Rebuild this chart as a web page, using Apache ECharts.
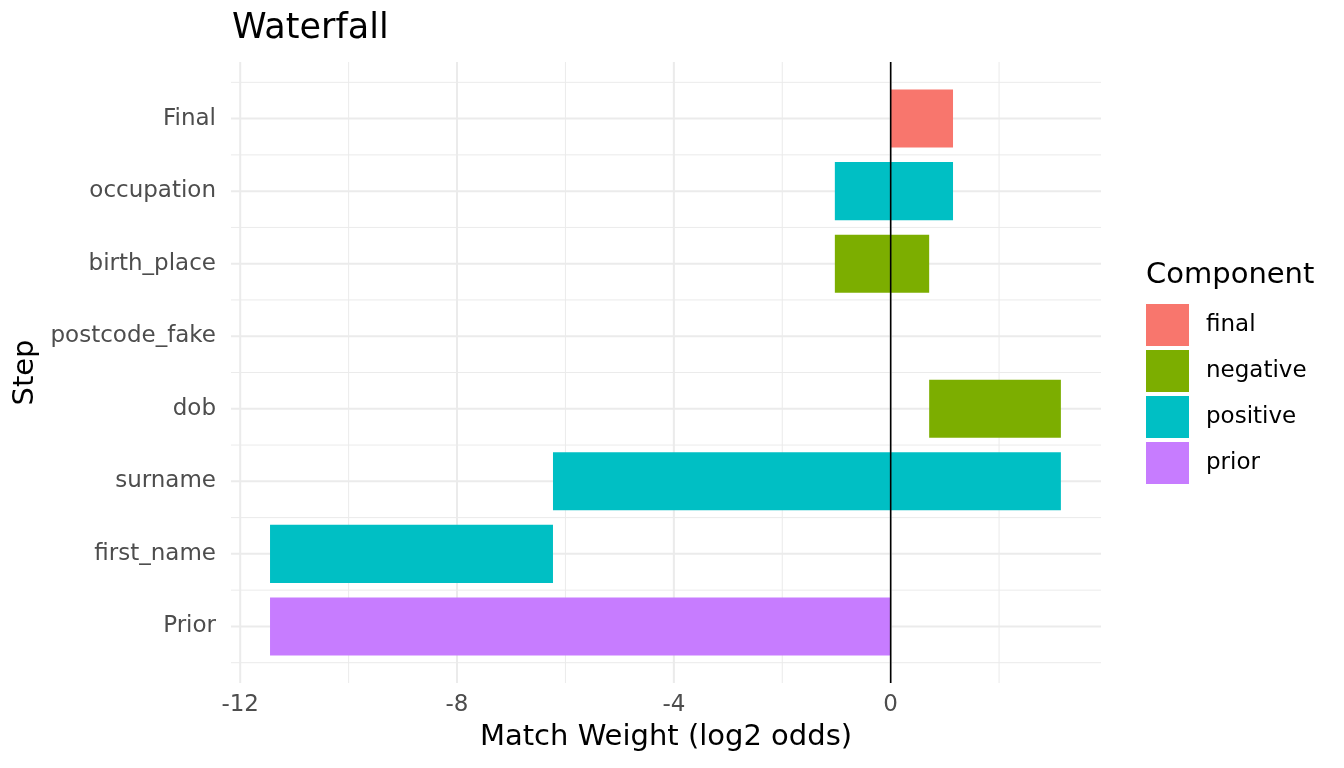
<!DOCTYPE html>
<html>
<head>
<meta charset="utf-8">
<title>Waterfall</title>
<script src="https://cdn.jsdelivr.net/npm/echarts@6/dist/echarts.min.js"></script>
<style>
html,body{margin:0;padding:0;background:#fff;}
#main{width:1344px;height:768px;}
</style>
</head>
<body>
<div id="main"></div>
<script>
// steps, from bottom to top
var steps = ['Prior', 'first_name', 'surname', 'dob', 'postcode_fake', 'birth_place', 'occupation', 'Final'];
// start / end of each bar (log2 odds)
var barStart = [0, -11.45, -6.23, 3.14, 0.71, 0.71, -1.03, 0];
var barEnd = [-11.45, -6.23, 3.14, 0.71, 0.71, -1.03, 1.15, 1.15];
var stepComponent = ['prior', 'positive', 'positive', 'negative', 'negative', 'negative', 'positive', 'final'];

var components = ['final', 'negative', 'positive', 'prior'];
var colors = ['#F8766D', '#7CAE00', '#00BFC4', '#C77CFF'];

// axis ticks
var xTicks = [-12, -8, -4, 0];
var xMinor = [-10, -6, -2, 2];
var yTicks = [0, 1, 2, 3, 4, 5, 6, 7];
var yMinor = [-0.5, 0.5, 1.5, 2.5, 3.5, 4.5, 5.5, 6.5, 7.5];

var font = 'DejaVu Sans';

// one bar: from value(0) to value(1) at row value(2)
function renderBar(params, api) {
	var a = api.coord([api.value(0), api.value(2)]);
	var b = api.coord([api.value(1), api.value(2)]);
	var h = api.size([0, 0.8])[1];
	return {
		type: 'rect',
		shape: {x: Math.min(a[0], b[0]), y: a[1] - h / 2, width: Math.abs(b[0] - a[0]), height: h},
		style: api.style()
	};
}

// full-width / full-height line of the panel
function lineSeries(values, vertical, color, width, z) {
	return {
		type: 'custom',
		silent: true,
		z: z,
		encode: {x: 0, y: 1},
		data: values.map(function (v) { return vertical ? [v, 0] : [0, v]; }),
		renderItem: function (params, api) {
			var cs = params.coordSys;
			var p = api.coord([api.value(0), api.value(1)]);
			var shape = vertical
				? {x1: p[0], y1: cs.y, x2: p[0], y2: cs.y + cs.height}
				: {x1: cs.x, y1: p[1], x2: cs.x + cs.width, y2: p[1]};
			return {type: 'line', shape: shape, style: {stroke: color, lineWidth: width}};
		}
	};
}

var series = [
	lineSeries(xMinor, true, '#EBEBEB', 1, 0),
	lineSeries(yMinor, false, '#EBEBEB', 1, 0),
	lineSeries(xTicks, true, '#EBEBEB', 2, 1),
	lineSeries(yTicks, false, '#EBEBEB', 2, 1)
];

components.forEach(function (c, k) {
	var data = [];
	for (var i = 0; i < steps.length; i++) {
		if (stepComponent[i] === c) data.push([barStart[i], barEnd[i], i]);
	}
	series.push({
		name: c,
		type: 'custom',
		z: 2,
		renderItem: renderBar,
		encode: {x: [0, 1], y: 2},
		itemStyle: {color: colors[k]},
		data: data
	});
});

// vline at 0
series.push(lineSeries([0], true, '#000000', 1.6, 3));

var chart = echarts.init(document.getElementById('main'));
var option = {
	backgroundColor: '#ffffff',
	animation: false,
	textStyle: {fontFamily: font},
	grid: {left: 231, right: 243, top: 62, bottom: 85},
	xAxis: {
		type: 'value',
		min: -12.17,
		max: 3.88,
		name: 'Match Weight (log2 odds)',
		nameLocation: 'middle',
		nameGap: 54,
		nameTextStyle: {fontSize: 29, color: '#000', fontFamily: font, verticalAlign: 'middle'},
		axisLine: {show: false},
		axisTick: {show: false},
		splitLine: {show: false},
		axisLabel: {customValues: xTicks, fontSize: 23, color: '#4D4D4D', margin: 11, fontFamily: font}
	},
	yAxis: {
		type: 'value',
		min: -0.78,
		max: 7.78,
		name: 'Step',
		nameLocation: 'middle',
		nameGap: 203,
		nameRotate: 90,
		nameTextStyle: {fontSize: 29, color: '#000', fontFamily: font, verticalAlign: 'middle'},
		axisLine: {show: false},
		axisTick: {show: false},
		splitLine: {show: false},
		axisLabel: {
			customValues: yTicks,
			fontSize: 23,
			lineHeight: 26,
			color: '#4D4D4D',
			margin: 15,
			padding: [5, 0, 0, 0],
			fontFamily: font,
			formatter: function (v) { return steps[Math.round(v)]; }
		}
	},
	legend: {
		orient: 'vertical',
		left: 1146,
		top: 304,
		padding: 0,
		itemWidth: 43,
		itemHeight: 42,
		itemGap: 4,
		icon: 'rect',
		selectedMode: false,
		data: components,
		textStyle: {fontSize: 23, color: '#000', fontFamily: font, padding: [4, 0, 0, 12]}
	},
	graphic: [
		{type: 'text', left: 232, top: 11, style: {text: 'Waterfall', fontSize: 35, fill: '#000', fontFamily: font}},
		{type: 'text', left: 1146, top: 261, style: {text: 'Component', fontSize: 29, fill: '#000', fontFamily: font}}
	],
	series: series
};
chart.setOption(option);
</script>
</body>
</html>
